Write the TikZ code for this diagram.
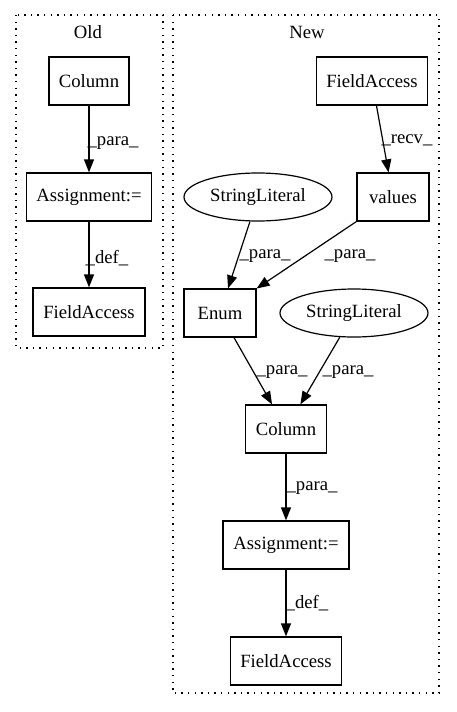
\documentclass[tikz,border=0pt]{standalone}
\usepackage{fontspec}
\setmainfont{Liberation Serif}
\usetikzlibrary{arrows.meta,shapes.geometric}
\tikzset{
  box/.style={draw, line width=1.2pt, rectangle, minimum height=48pt, inner sep=0pt},
  oval/.style={draw, line width=1.2pt, ellipse, minimum width=148pt, minimum height=48pt, inner sep=0pt},
  lbl/.style={inner sep=0pt},
  edge/.style={draw, line width=1.2pt, -{Triangle[length=13pt,width=10pt]}},
  cluster/.style={draw, line width=1.2pt, dash pattern=on 1.4pt off 5.2pt},
}
\begin{document}
\begin{tikzpicture}[x=1pt,y=-1pt,font=\fontsize{18.7}{22}\selectfont]
\useasboundingbox (0,0) rectangle (456,712);
% clusters
\draw[cluster] (16,15) rectangle (163,348);
\node[lbl] (oldt) at (88,32) {Old};
\draw[cluster] (173,15) rectangle (439,693);
\node[lbl] (newt) at (307,32) {New};
% old
\node[box, minimum width=80pt] (ocol) at (89,81) {Column};
\node[box, minimum width=125pt] (oasg) at (89,197) {Assignment:=};
\node[box, minimum width=112pt] (ofa) at (89,312) {FieldAccess};
\draw[edge] (ocol) -- (oasg);
\node[lbl] (l1) at (113,143) {\_para\_};
\draw[edge] (oasg) -- (ofa);
\node[lbl] (l2) at (107,258) {\_def\_};
% new
\node[box, minimum width=111pt] (nfa) at (372,81) {FieldAccess};
\node[box, minimum width=72pt] (val) at (393,197) {values};
\node[oval] (sl1) at (258,197) {StringLiteral};
\node[box, minimum width=72pt] (enum) at (220,313) {Enum};
\node[oval] (sl2) at (354,313) {StringLiteral};
\node[box, minimum width=81pt] (ncol) at (286,429) {Column};
\node[box, minimum width=126pt] (nasg) at (286,545) {Assignment:=};
\node[box, minimum width=111pt] (nfa2) at (286,661) {FieldAccess};
\draw[edge] (nfa) -- (val);
\node[lbl] (l3) at (407,140) {\_recv\_};
\draw[edge] (sl1) -- (enum);
\node[lbl] (l4) at (265,256) {\_para\_};
\draw[edge] (val) -- (enum);
\node[lbl] (l5) at (350,256) {\_para\_};
\draw[edge] (enum) -- (ncol);
\node[lbl] (l6) at (282,372) {\_para\_};
\draw[edge] (sl2) -- (ncol);
\node[lbl] (l7) at (348,372) {\_para\_};
\draw[edge] (ncol) -- (nasg);
\node[lbl] (l8) at (312,488) {\_para\_};
\draw[edge] (nasg) -- (nfa2);
\node[lbl] (l9) at (307,603) {\_def\_};
\end{tikzpicture}
\end{document}
